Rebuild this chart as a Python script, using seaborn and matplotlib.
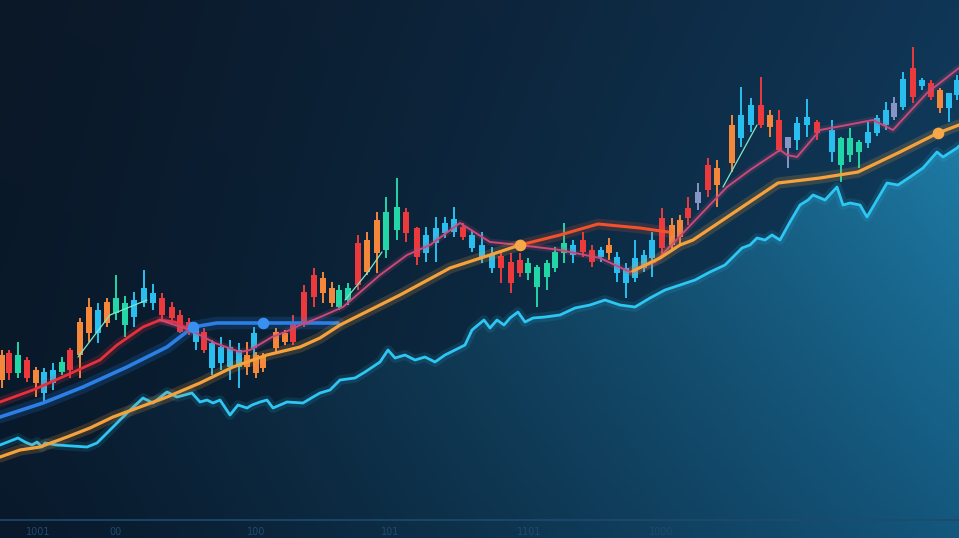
import numpy as np
import pandas as pd
import matplotlib.pyplot as plt
import seaborn as sns
from matplotlib.colors import to_rgb

sns.set_theme(style='dark')
plt.rcParams['font.family'] = ['DejaVu Sans']

# volume-like cyan line (area underneath)
cyan_x = [0, 18, 25, 32, 37, 42, 45, 57, 87, 97, 107, 117, 127, 143, 153, 167, 177, 192, 200, 207,
          213, 220, 230, 238, 247, 252, 260, 267, 273, 287, 303, 313, 320, 330, 340, 355, 365, 380,
          388, 395, 405, 415, 425, 435, 445, 455, 465, 472, 478, 484, 490, 497, 504, 510, 518, 525,
          533, 545, 560, 575, 590, 605, 620, 635, 650, 665, 680, 695, 710, 725, 735, 742, 750, 757,
          765, 772, 780, 790, 800, 808, 813, 825, 837, 843, 850, 860, 867, 877, 887, 898, 910, 923,
          937, 943, 957, 959]
cyan_y = [93, 100, 96, 93, 96, 91, 95, 93, 91, 95, 105, 115, 125, 140, 135, 146, 141, 145, 136, 138,
          135, 138, 123, 133, 130, 133, 136, 138, 130, 136, 135, 141, 145, 148, 158, 160, 166, 176,
          188, 180, 183, 178, 181, 176, 183, 188, 193, 208, 213, 218, 210, 218, 213, 220, 226, 216,
          220, 221, 223, 230, 233, 238, 233, 231, 240, 248, 253, 258, 266, 273, 283, 290, 293, 300,
          298, 303, 298, 316, 333, 338, 343, 338, 351, 333, 335, 333, 321, 338, 355, 353, 361, 370,
          386, 381, 390, 392]

# moving averages
orange_x1 = [0, 20, 40, 67, 90, 113, 140, 167, 200, 233, 267, 300, 320, 340, 370, 400, 450, 490, 520]
orange_y1 = [81, 88, 91, 101, 110, 121, 131, 141, 155, 171, 183, 191, 200, 213, 228, 243, 270, 283, 293]
orange_x2 = [633, 660, 680, 693, 778, 820, 858, 900, 938, 959]
orange_y2 = [267, 280, 293, 298, 355, 360, 366, 386, 405, 413]

redor_x = [520, 560, 598, 640, 668]
redor_y = [293, 303, 314, 310, 306]

red_x = [0, 33, 67, 100, 117, 143, 160, 175, 190]
red_y = [136, 148, 163, 178, 193, 211, 218, 216, 208]

pink_x = [160, 190, 200, 215, 240, 250, 262, 272, 290, 300, 318, 343, 380, 407, 430, 460, 490, 520,
          560, 600, 630, 655, 683, 727, 750, 780, 787, 797, 820, 847, 873, 893, 927, 959]
pink_y = [218, 208, 203, 195, 186, 188, 195, 201, 208, 213, 220, 231, 263, 283, 293, 315, 296, 293,
          288, 280, 266, 276, 305, 351, 368, 388, 383, 381, 408, 413, 418, 408, 445, 470]

blue_x = [0, 43, 83, 127, 167, 193, 217, 263, 338]
blue_y = [121, 135, 151, 171, 191, 211, 215, 215, 215]

teal_segs = [([78, 110, 147], [181, 223, 238]),
             ([345, 368, 382], [238, 266, 286]),
             ([723, 757], [351, 413])]

dot_blue_x = [193, 263]
dot_blue_y = [211, 215]
dot_orange_x = [520, 938]
dot_orange_y = [293, 405]

# candles: x, body low, body high, wick low, wick high, colour code
cx = [2, 9, 18, 27, 36, 44, 53, 62, 70, 80, 89, 98, 107, 116, 125, 134, 144, 153, 162, 172, 180, 189,
      196, 204, 212, 221, 230, 239, 247, 254, 256, 263, 276, 285, 293, 304, 314, 323, 332, 339, 348,
      358, 367, 377, 386, 397, 406, 417, 426, 436, 445, 454, 463, 472, 482, 492, 501, 511, 520, 528,
      537, 547, 555, 564, 573, 583, 592, 601, 609, 617, 626, 635, 644, 652, 662, 672, 680, 688, 698,
      708, 717, 732, 741, 751, 761, 770, 779, 788, 797, 807, 817, 832, 841, 850, 859, 868, 877, 886,
      894, 903, 913, 922, 931, 940, 949, 957]
body_hi = [183, 185, 183, 178, 168, 166, 168, 176, 188, 216, 231, 228, 236, 240, 235, 238, 250, 245, 240,
           231, 223, 216, 211, 206, 195, 191, 191, 188, 183, 205, 183, 181, 206, 205, 215, 246, 263, 260,
           250, 248, 250, 295, 298, 318, 326, 331, 326, 310, 303, 310, 315, 319, 311, 303, 293, 283, 282,
           276, 278, 275, 271, 275, 286, 295, 293, 298, 288, 288, 293, 281, 270, 280, 283, 298, 320, 313,
           318, 330, 346, 373, 370, 413, 423, 433, 433, 423, 418, 401, 415, 421, 416, 408, 400, 400, 396,
           406, 420, 428, 435, 459, 470, 458, 455, 448, 445, 458]
body_lo = [158, 165, 165, 160, 155, 145, 155, 166, 168, 183, 205, 205, 215, 225, 213, 221, 235, 235, 223,
           220, 206, 206, 196, 188, 170, 175, 171, 171, 171, 190, 165, 170, 190, 196, 196, 216, 241, 245,
           235, 231, 238, 253, 266, 285, 288, 308, 305, 281, 285, 295, 305, 306, 301, 290, 280, 270, 270,
           255, 265, 265, 251, 261, 270, 285, 283, 286, 276, 281, 285, 265, 255, 260, 270, 280, 290, 293,
           301, 320, 335, 348, 353, 375, 400, 413, 413, 411, 388, 390, 398, 413, 405, 386, 373, 383, 386,
           395, 405, 413, 421, 431, 441, 452, 441, 430, 430, 443]
wick_hi = [188, 188, 196, 181, 171, 170, 175, 181, 190, 220, 240, 235, 240, 263, 242, 246, 268, 254, 245,
           236, 228, 220, 215, 210, 198, 201, 198, 195, 196, 211, 186, 185, 210, 208, 223, 253, 270, 266,
           256, 253, 255, 303, 306, 326, 341, 360, 330, 311, 311, 321, 321, 331, 315, 308, 306, 291, 286,
           285, 285, 280, 273, 278, 291, 315, 298, 306, 293, 291, 300, 286, 275, 298, 288, 306, 330, 320,
           323, 341, 355, 380, 378, 423, 451, 440, 461, 428, 428, 401, 421, 439, 418, 418, 401, 410, 398,
           416, 423, 436, 441, 466, 491, 460, 458, 450, 445, 463]
wick_lo = [150, 158, 160, 156, 141, 135, 148, 163, 160, 160, 196, 195, 211, 218, 201, 211, 231, 228, 216,
           215, 205, 203, 188, 185, 163, 168, 158, 150, 163, 183, 160, 166, 186, 193, 193, 211, 231, 235,
           231, 228, 233, 248, 263, 265, 280, 298, 296, 273, 276, 276, 300, 301, 298, 286, 275, 265, 255,
           245, 261, 258, 231, 248, 266, 275, 275, 281, 271, 276, 278, 256, 240, 256, 266, 261, 283, 288,
           293, 313, 328, 341, 331, 366, 391, 406, 410, 401, 386, 370, 388, 401, 398, 376, 356, 376, 370,
           390, 402, 408, 418, 428, 435, 448, 438, 425, 416, 438]
ccol = ['o', 'r', 'g', 'r', 'o', 'c', 'c', 'g', 'r', 'o', 'o', 'c', 'o', 'g', 'g', 'c', 'c', 'c', 'r',
        'r', 'r', 'r', 'c', 'r', 'c', 'c', 'c', 'c', 'o', 'c', 'o', 'o', 'o', 'o', 'r', 'r', 'r', 'o',
        'o', 'g', 'g', 'r', 'o', 'o', 'g', 'g', 'r', 'r', 'c', 'c', 'c', 'c', 'r', 'c', 'c', 'c', 'r',
        'r', 'r', 'g', 'g', 'g', 'g', 'g', 'c', 'r', 'r', 'c', 'o', 'c', 'c', 'c', 'c', 'c', 'r', 'o',
        'o', 'r', 'b', 'r', 'o', 'o', 'c', 'c', 'r', 'o', 'r', 'b', 'c', 'c', 'r', 'c', 'g', 'g', 'g',
        'c', 'c', 'c', 'b', 'c', 'r', 'c', 'r', 'o', 'c', 'c']

axis_labels = ['1001', '00', '100', '101', '1101', '1000']
axis_label_x = [38, 116, 256, 390, 529, 661]

palette = {'r': '#ec3a3c', 'o': '#f4873a', 'c': '#28bff0', 'g': '#22d6a6', 'b': '#8794c6'}

W, H = 959, 538
fig = plt.figure(figsize=(9.59, 5.38), dpi=100)
ax = fig.add_axes([0, 0, 1, 1])
ax.set_xlim(0, W)
ax.set_ylim(0, H)
ax.axis('off')


def bilinear(tl, tr, bl, br, ny=120, nx=240):
    tl, tr, bl, br = [np.array(to_rgb(c)) for c in (tl, tr, bl, br)]
    u = np.linspace(0, 1, nx)[None, :, None] ** 1.3
    v = np.linspace(0, 1, ny)[:, None, None]
    top = tl * (1 - u) + tr * u
    bot = bl * (1 - u) + br * u
    return top * (1 - v) + bot * v


# background
bg = bilinear('#0b1828', '#103656', '#081a2c', '#0f4466')
ax.imshow(bg, extent=[0, W, 0, H], origin='upper', aspect='auto', zorder=0)

# area under cyan line
poly = ax.fill_between(cyan_x, cyan_y, 0, color='none', zorder=1)
area = bilinear('#0b2136', '#1e7ba5', '#09192b', '#14577d')
im = ax.imshow(area, extent=[0, W, 0, 400], origin='upper', aspect='auto', zorder=1)
im.set_clip_path(poly.get_paths()[0], transform=ax.transData)
ax.set_xlim(0, W)
ax.set_ylim(0, H)

# baseline + faint labels
ax.axhline(18, color='#1d4a6e', lw=1.2, zorder=2)
for lx, lt in zip(axis_label_x, axis_labels):
    ax.text(lx, 6, lt, color='#1e4a6e', fontsize=7, ha='center', va='center', zorder=2)

# candles
cols = [palette[c] for c in ccol]
ax.vlines(cx, wick_lo, wick_hi, colors=cols, lw=1.4, zorder=3)
ax.bar(cx, np.array(body_hi) - np.array(body_lo), bottom=body_lo, width=6.5, color=cols,
       linewidth=0, zorder=3)


def glow_line(x, y, color, lw, z, glow=0.18):
    df = pd.DataFrame({'x': x, 'y': y})
    sns.lineplot(data=df, x='x', y='y', ax=ax, color=color, lw=lw * 3.5, alpha=glow,
                 estimator=None, sort=False, zorder=z)
    sns.lineplot(data=df, x='x', y='y', ax=ax, color=color, lw=lw, estimator=None,
                 sort=False, zorder=z)


glow_line(cyan_x, cyan_y, '#2ec6f2', 2.0, 4, glow=0.12)
glow_line(blue_x, blue_y, '#2a80e6', 2.6, 5)
glow_line(red_x, red_y, '#e8303c', 2.0, 5)
glow_line(pink_x, pink_y, '#c94a78', 1.4, 5)
glow_line(redor_x, redor_y, '#f0522c', 2.2, 5)
glow_line(orange_x1, orange_y1, '#f6a23c', 2.3, 6)
glow_line(orange_x2, orange_y2, '#f6a23c', 2.3, 6)
for sx, sy in teal_segs:
    sns.lineplot(x=sx, y=sy, ax=ax, color='#7fe8c8', lw=0.9, estimator=None, sort=False, zorder=5)

ax.scatter(dot_blue_x, dot_blue_y, s=70, color='#3a90f0', zorder=7, linewidths=0)
ax.scatter(dot_orange_x, dot_orange_y, s=70, color='#f7a848', zorder=7, linewidths=0)

ax.set_xlabel('')
ax.set_ylabel('')
fig.savefig('out.png', dpi=100)
